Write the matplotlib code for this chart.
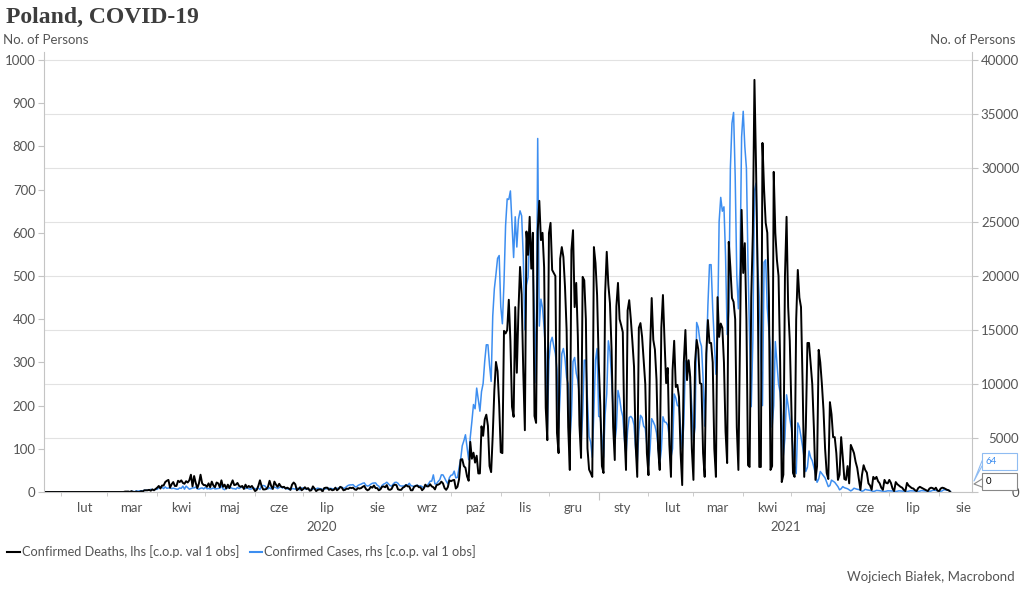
import datetime as dt
import matplotlib
matplotlib.use("Agg")
import matplotlib.pyplot as plt
from matplotlib.lines import Line2D
from matplotlib.patches import Rectangle

plt.rcParams["font.family"] = ["Lato", "DejaVu Sans"]

# ---------------------------------------------------------------- data
# daily values, one list per month (series starts 2020-01-22)
START = dt.date(2020, 1, 22)

deaths_2020_01 = [0, 0, 0, 0, 0, 0, 0, 0, 0, 0]
cases_2020_01 = [0, 0, 0, 0, 0, 0, 0, 0, 0, 0]
deaths_2020_02 = [0, 0, 0, 0, 0, 0, 0, 0, 0, 0, 0, 0, 0, 0, 0, 0, 0, 0, 0, 0,
                  0, 0, 0, 0, 0, 0, 0, 0, 0]
cases_2020_02 = [0, 0, 0, 0, 0, 0, 0, 0, 0, 0, 0, 0, 0, 0, 0, 0, 0, 0, 0, 0,
                 0, 0, 0, 0, 0, 0, 0, 0, 0]
deaths_2020_03 = [0, 0, 0, 0, 0, 0, 0, 0, 0, 0, 0, 1, 1, 1, 0, 2, 0, 0, 1, 0,
                  0, 2, 1, 4, 4, 4, 5, 3, 6, 4, 7]
cases_2020_03 = [0, 0, 0, 1, 0, 4, 1, 5, 5, 6, 9, 20, 17, 36, 21, 52, 61, 13, 104, 70,
                 111, 98, 115, 152, 150, 170, 168, 249, 224, 193, 256]
deaths_2020_04 = [10, 14, 8, 15, 15, 23, 26, 28, 10, 18, 23, 14, 14, 26, 23, 27, 21, 19, 25, 22,
                  27, 40, 13, 37, 21, 9, 20, 40, 20, 16]
cases_2020_04 = [243, 392, 475, 437, 311, 475, 338, 370, 380, 316, 357, 318, 268, 260, 380,
                 336, 545, 263, 545, 401, 263, 313, 380, 381, 460, 285, 263, 344, 380, 286]
deaths_2020_05 = [16, 12, 20, 11, 24, 15, 11, 22, 20, 11, 27, 12, 17, 8, 17, 9, 18, 27, 16, 17,
                  21, 14, 12, 14, 7, 17, 10, 14, 11, 14, 8]
cases_2020_05 = [445, 294, 330, 281, 307, 383, 286, 307, 330, 345, 595, 285, 215, 374, 381,
                 373, 395, 316, 312, 263, 418, 325, 420, 443, 395, 309, 395, 301, 261, 304, 380]
deaths_2020_06 = [2, 5, 14, 27, 14, 6, 6, 7, 12, 26, 14, 7, 24, 17, 12, 19, 13, 11, 12, 8,
                  10, 8, 5, 17, 22, 18, 4, 7, 11, 4]
cases_2020_06 = [293, 292, 361, 230, 576, 599, 575, 375, 282, 395, 282, 370, 440, 407, 314,
                 407, 506, 371, 440, 311, 301, 246, 219, 319, 300, 265, 375, 260, 193, 371]
deaths_2020_07 = [7, 11, 7, 9, 3, 4, 13, 8, 2, 5, 6, 6, 1, 9, 10, 10, 5, 7, 4, 5,
                  10, 4, 7, 12, 10, 4, 5, 8, 7, 10, 9]
cases_2020_07 = [371, 302, 245, 262, 243, 230, 290, 270, 299, 358, 318, 299, 232, 290, 283,
                 318, 339, 334, 301, 277, 322, 337, 358, 418, 443, 337, 375, 512, 615, 657, 658]
deaths_2020_08 = [10, 6, 5, 9, 8, 9, 12, 14, 7, 4, 6, 12, 10, 15, 9, 9, 4, 6, 12, 13,
                  11, 16, 6, 5, 7, 15, 17, 16, 6, 5, 5]
cases_2020_08 = [680, 512, 458, 599, 680, 726, 809, 843, 619, 548, 599, 720, 809, 832, 843,
                 631, 547, 264, 598, 727, 791, 903, 764, 594, 548, 734, 887, 900, 804, 595, 550]
deaths_2020_09 = [10, 12, 16, 13, 13, 4, 4, 12, 14, 15, 11, 11, 4, 8, 17, 13, 13, 18, 13, 11,
                  6, 16, 17, 19, 24, 20, 9, 5, 11, 27]
cases_2020_09 = [555, 581, 677, 619, 809, 598, 550, 520, 601, 621, 558, 579, 497, 376, 501,
                 600, 757, 1002, 1002, 1587, 744, 758, 975, 1136, 1587, 1584, 1306, 1000, 757, 1326]
deaths_2020_10 = [25, 27, 28, 8, 12, 29, 75, 76, 60, 56, 36, 26, 116, 77, 91, 68, 84, 43, 43, 152,
                  130, 168, 179, 153, 60, 46, 132, 236, 301, 280, 202]
cases_2020_10 = [1552, 1587, 1934, 1306, 1350, 2236, 3003, 4280, 4739, 5300, 4178, 2986, 5068,
                 6526, 8099, 7705, 9622, 8536, 7482, 9291, 10040, 12107, 13632, 13628, 11742,
                 10241, 16300, 18820, 20156, 21629, 21897]
deaths_2020_11 = [92, 90, 373, 367, 375, 445, 349, 197, 174, 428, 276, 419, 521, 457, 280, 143,
                  603, 549, 637, 517, 600, 176, 160, 603, 674, 583, 600, 520, 195, 120]
cases_2020_11 = [17171, 15578, 19364, 24692, 27143, 27086, 27875, 24785, 21713, 25484, 22683,
                 25221, 26035, 25571, 21854, 15002, 19152, 19883, 23975, 22464, 21320, 15986,
                 10139, 32733, 15362, 17856, 17064, 15178, 12839, 5733]
deaths_2020_12 = [599, 623, 514, 507, 500, 137, 90, 540, 567, 544, 475, 376, 150, 51, 560, 606,
                  428, 484, 361, 155, 79, 498, 490, 400, 101, 52, 44, 35, 567, 530, 455]
cases_2020_12 = [12168, 13855, 14325, 13521, 12818, 11369, 5907, 9080, 12796, 13288, 12330,
                 10592, 9995, 4633, 7105, 12076, 12454, 11003, 10346, 8935, 4310, 7216, 12203,
                 12197, 8473, 5120, 4624, 3211, 7538, 12211, 13288]
deaths_2021_01 = [300, 200, 60, 44, 460, 556, 480, 437, 330, 150, 74, 430, 484, 400, 386, 370,
                  140, 51, 420, 444, 400, 347, 290, 110, 35, 380, 391, 360, 305, 250, 90]
cases_2021_01 = [7000, 6950, 5050, 3211, 7200, 9100, 14000, 13000, 10600, 7400, 4500, 5900,
                 9400, 8700, 7600, 7000, 4900, 3400, 5700, 6900, 7000, 6800, 6200, 4000, 2700,
                 5600, 7100, 6900, 6100, 5900, 4300]
deaths_2021_02 = [39, 330, 449, 352, 330, 260, 100, 51, 380, 456, 350, 252, 287, 110, 35, 282,
                  350, 243, 248, 220, 90, 16, 300, 375, 259, 305, 266, 100]
cases_2021_02 = [2431, 4000, 6789, 6496, 6144, 5482, 4215, 2588, 3890, 6966, 6496, 6438, 6178,
                 5001, 3200, 4000, 9076, 8699, 8000, 7950, 6000, 4000, 6310, 12146, 12026,
                 12098, 10346, 7900]
deaths_2021_03 = [28, 300, 352, 330, 252, 250, 90, 35, 320, 398, 345, 345, 300, 100, 35, 451,
                  359, 390, 380, 300, 140, 67, 579, 520, 449, 440, 400, 150, 51, 350, 653]
cases_2021_03 = [4786, 6000, 15698, 15250, 14000, 13500, 10500, 6100, 12000, 17260, 21045,
                 21049, 17000, 14000, 10900, 14400, 25052, 27278, 25998, 26405, 21849, 14578,
                 16740, 29978, 34151, 35143, 29253, 20000, 16965, 20870, 32874]
deaths_2021_04 = [507, 576, 400, 62, 58, 450, 600, 954, 752, 500, 58, 58, 808, 700, 623, 600,
                  450, 51, 60, 741, 600, 537, 500, 300, 23, 40, 500, 637, 428, 350]
cases_2021_04 = [35251, 32000, 29978, 21000, 14000, 7900, 14000, 27887, 28600, 21000, 18000,
                 12200, 8000, 21283, 21500, 17000, 15000, 13000, 6000, 8000, 13926, 12000,
                 10000, 9200, 7000, 3400, 5000, 9000, 8000, 6800]
deaths_2021_05 = [200, 44, 35, 400, 514, 450, 428, 250, 35, 150, 345, 345, 298, 250, 150, 28,
                  60, 329, 300, 250, 190, 100, 44, 30, 208, 180, 127, 127, 90, 28, 40]
cases_2021_05 = [5900, 4000, 2400, 1700, 6400, 6000, 5100, 4200, 3100, 1900, 2300, 3800, 3200,
                 2900, 2300, 1700, 900, 1200, 1900, 1700, 1500, 1300, 900, 500, 600, 1100,
                 1000, 900, 700, 500, 200]
deaths_2021_06 = [127, 81, 30, 28, 60, 20, 109, 100, 90, 70, 56, 30, 5, 40, 62, 51, 45, 20, 15, 5,
                  35, 30, 35, 25, 20, 10, 5, 28, 21, 20]
cases_2021_06 = [300, 500, 400, 350, 300, 200, 100, 200, 350, 300, 250, 230, 150, 70, 120, 250,
                 200, 180, 150, 100, 50, 80, 150, 140, 120, 100, 70, 40, 70, 110]
deaths_2021_07 = [28, 21, 8, 2, 23, 18, 15, 12, 10, 5, 2, 21, 15, 12, 9, 8, 4, 2, 9, 12,
                  10, 8, 6, 4, 2, 8, 10, 9, 6, 10, 3]
cases_2021_07 = [110, 100, 90, 60, 40, 70, 110, 100, 100, 80, 60, 40, 80, 110, 110, 100, 90, 70,
                 50, 80, 130, 120, 120, 100, 80, 50, 90, 150, 160, 150, 130]
deaths_2021_08 = [2, 8, 10, 9, 7, 5, 4, 0]
cases_2021_08 = [100, 60, 110, 220, 200, 180, 150, 64]

MONTH_NAMES = ["sty", "lut", "mar", "kwi", "maj", "cze", "lip", "sie", "wrz", "paź", "lis", "gru"]
DEATHS_LABEL = "Confirmed Deaths, lhs [c.o.p. val 1 obs]"
CASES_LABEL = "Confirmed Cases, rhs [c.o.p. val 1 obs]"

deaths = (deaths_2020_01 + deaths_2020_02 + deaths_2020_03 + deaths_2020_04 + deaths_2020_05
          + deaths_2020_06 + deaths_2020_07 + deaths_2020_08 + deaths_2020_09 + deaths_2020_10
          + deaths_2020_11 + deaths_2020_12 + deaths_2021_01 + deaths_2021_02 + deaths_2021_03
          + deaths_2021_04 + deaths_2021_05 + deaths_2021_06 + deaths_2021_07 + deaths_2021_08)
cases = (cases_2020_01 + cases_2020_02 + cases_2020_03 + cases_2020_04 + cases_2020_05
         + cases_2020_06 + cases_2020_07 + cases_2020_08 + cases_2020_09 + cases_2020_10
         + cases_2020_11 + cases_2020_12 + cases_2021_01 + cases_2021_02 + cases_2021_03
         + cases_2021_04 + cases_2021_05 + cases_2021_06 + cases_2021_07 + cases_2021_08)
dates = [START + dt.timedelta(days=i) for i in range(len(deaths))]

# ---------------------------------------------------------------- style
BLUE = "#3d8ef0"
TXT = "#555555"
SPINE = "#c4c4c4"
GRID = "#e2e2e2"
W, H = 1024, 594


def fx(px):
    return px / W


def fy(py):
    return 1 - py / H


fig = plt.figure(figsize=(W / 100, H / 100), dpi=100)
ax = fig.add_axes([fx(44), fy(492), (972 - 44) / W, (492 - 52) / H])
ax2 = ax.twinx()
ax.set_zorder(ax2.get_zorder() + 1)
ax.patch.set_visible(False)

ax2.plot(dates, cases, color=BLUE, lw=1.1, solid_joinstyle="round")
ax.plot(dates, deaths, color="black", lw=1.4, solid_joinstyle="round")

x0 = dt.datetime(2020, 1, 21, 12)
x1 = dt.datetime(2021, 8, 21, 12)
ax.set_xlim(x0, x1)
ax.set_ylim(0, 1000 * 440 / 432)
ax2.set_ylim(0, 40000 * 440 / 432)

ax.set_yticks(range(0, 1001, 100))
ax2.set_yticks(range(0, 40001, 5000))
ax2.grid(axis="y", color=GRID, lw=0.8)
ax.tick_params(axis="y", length=4, color=SPINE, labelcolor=TXT, labelsize=9.5, pad=2)
ax2.tick_params(axis="y", length=4, color=SPINE, labelcolor=TXT, labelsize=9.5, pad=30)
for lbl in ax2.get_yticklabels():
    lbl.set_horizontalalignment("right")

for side in ["top", "right"]:
    ax.spines[side].set_visible(False)
for side in ["top", "left", "bottom"]:
    ax2.spines[side].set_visible(False)
ax.spines["left"].set_color(SPINE)
ax.spines["bottom"].set_color(SPINE)
ax2.spines["right"].set_color(SPINE)

# month ticks and labels
month_starts = []
y, m = 2020, 2
while dt.datetime(y, m, 1) < x1:
    month_starts.append(dt.datetime(y, m, 1))
    m += 1
    if m > 12:
        y, m = y + 1, 1
ax.set_xticks([dt.datetime(2021, 1, 1)])
ax.set_xticks(month_starts, minor=True)
ax.set_xticklabels([])
ax.tick_params(axis="x", which="major", length=6, color=SPINE)
ax.tick_params(axis="x", which="minor", length=3, color=SPINE)

xtr = ax.get_xaxis_transform()
for ms in month_starts:
    mid = dt.datetime(ms.year, ms.month, 16)
    if mid < x1:
        ax.text(mid, -16 / 440, MONTH_NAMES[ms.month - 1], transform=xtr,
                ha="center", va="center", fontsize=9.5, color=TXT)
for yr in [2020, 2021]:
    a = max(x0, dt.datetime(yr, 1, 1))
    b = min(x1, dt.datetime(yr + 1, 1, 1))
    ax.text(a + (b - a) / 2, -35 / 440, str(yr), transform=xtr,
            ha="center", va="center", fontsize=9.5, color=TXT)

# ---------------------------------------------------------------- texts
fig.text(fx(6), fy(17), "Poland, COVID-19", fontsize=17, fontweight="bold",
         family=["Liberation Serif", "DejaVu Serif"], color="#3d3d3d", va="center")
fig.text(fx(3), fy(40), "No. of Persons", fontsize=9.5, color=TXT, va="center")
fig.text(fx(1015), fy(40), "No. of Persons", fontsize=9.5, color=TXT, va="center", ha="right")

fig.add_artist(Line2D([fx(7), fx(20)], [fy(552), fy(552)], color="black", lw=1.5,
                      transform=fig.transFigure))
fig.text(fx(22), fy(552), DEATHS_LABEL, fontsize=9.2, color=TXT, va="center")
fig.add_artist(Line2D([fx(250), fx(262)], [fy(552), fy(552)], color=BLUE, lw=1.5,
                      transform=fig.transFigure))
fig.text(fx(264), fy(552), CASES_LABEL, fontsize=9.2, color=TXT, va="center")

fig.text(fx(1015), fy(577), "Wojciech Białek, Macrobond", fontsize=9.5, color=TXT,
         va="center", ha="right")

# last-value callouts
fig.add_artist(Rectangle((fx(982), fy(470)), 35 / W, 17 / H, transform=fig.transFigure,
                         facecolor="white", edgecolor="#8fbcf2", lw=0.8, zorder=5))
fig.add_artist(Line2D([fx(982), fx(974), fx(982)], [fy(461), fy(481), fy(466)], color="#8fbcf2",
                      lw=0.8, transform=fig.transFigure, zorder=6))
fig.text(fx(986), fy(461.5), str(cases[-1]), fontsize=7, color=BLUE, va="center", zorder=7)

fig.add_artist(Rectangle((fx(982), fy(490)), 35 / W, 17 / H, transform=fig.transFigure,
                         facecolor="white", edgecolor="#888888", lw=0.8, zorder=5))
fig.add_artist(Line2D([fx(982), fx(974), fx(982)], [fy(479), fy(484), fy(487)], color="#888888",
                      lw=0.8, transform=fig.transFigure, zorder=6))
fig.text(fx(986), fy(481.5), str(deaths[-1]), fontsize=7, color="black", va="center", zorder=7)

fig.savefig("out.png", dpi=100)
